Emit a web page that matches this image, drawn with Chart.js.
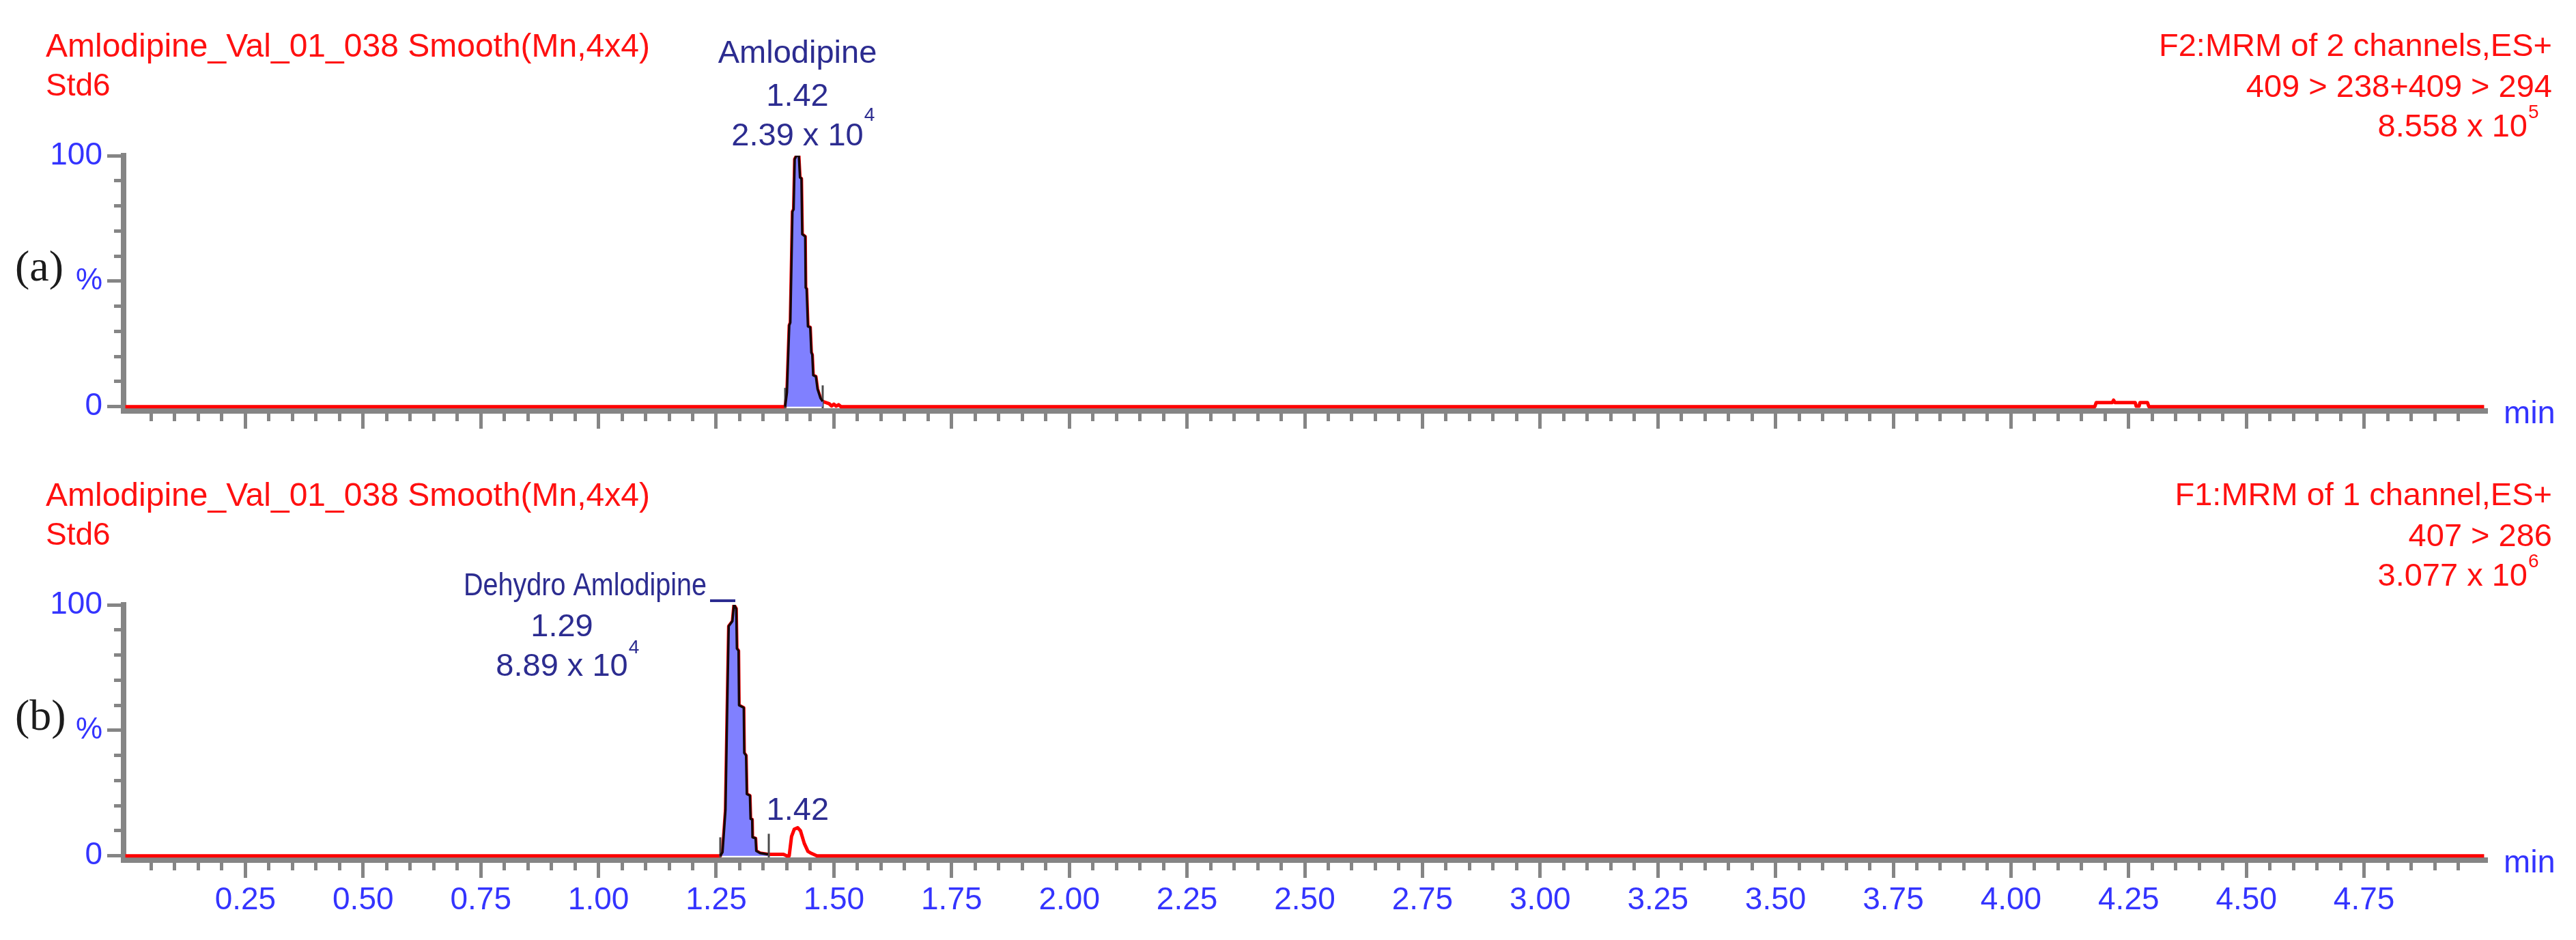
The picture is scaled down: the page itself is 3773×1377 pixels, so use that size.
<!DOCTYPE html>
<html>
<head>
<meta charset="utf-8">
<script src="https://cdn.jsdelivr.net/npm/chart.js@4.4.1/dist/chart.umd.min.js"></script>
<style>
html,body{margin:0;padding:0;background:#fff;}
#wrap{position:relative;width:3773px;height:1377px;overflow:hidden;background:#fff;}
canvas{position:absolute;left:0;}
</style>
</head>
<body>
<div id="wrap">
<canvas id="ca" width="3773" height="658" style="top:0px"></canvas>
<canvas id="cb" width="3773" height="719" style="top:658px"></canvas>
</div>
<script>
// ---------------- DATA ----------------
// Panel (a): F2 MRM trace (retention time, min / relative intensity, %)
const timeA = [-0.005, 1.390, 1.3965, 1.4003, 1.4052, 1.4075, 1.4120, 1.4145, 1.4168, 1.4207, 1.4255, 1.4279, 1.4310, 1.4327, 1.4390, 1.4400, 1.4420, 1.4448, 1.4497, 1.4520, 1.4540, 1.4560, 1.4617, 1.4651, 1.4714, 1.4762, 1.4900, 1.4950, 1.5000, 1.5050, 1.5100, 1.5150, 4.178, 4.181, 4.215, 4.218, 4.221, 4.264, 4.266, 4.272, 4.274, 4.290, 4.293, 5.005];
const intensityA = [0, 0, 0, 5.7, 32.4, 33.5, 77.7, 78.6, 98.6, 100, 100, 91.3, 90.9, 68.7, 67.8, 47.4, 46.9, 32.0, 31.6, 21.6, 20.7, 12.5, 12.0, 7.1, 3.4, 2.1, 1.2, 0.3, 1.0, 0.2, 0.8, 0, 0, 1.6, 1.6, 2.6, 1.6, 1.6, 0.2, 0.2, 1.6, 1.6, 0, 0];
// Panel (b): F1 MRM trace
const timeB = [-0.005, 1.255, 1.2587, 1.2635, 1.2698, 1.2732, 1.2766, 1.2845, 1.2877, 1.2925, 1.2939, 1.2974, 1.2985, 1.3085, 1.3095, 1.3134, 1.3150, 1.3216, 1.3230, 1.3264, 1.3270, 1.3336, 1.3350, 1.3433, 1.3602, 1.3930, 1.4000, 1.4050, 1.4100, 1.4157, 1.4230, 1.4290, 1.4370, 1.4448, 1.4520, 1.4640, 5.005];
const intensityB = [0, 0, 0, 1.5, 18.3, 56.3, 91.5, 93.5, 100, 98.5, 82.6, 81.7, 60.0, 59.0, 41.0, 40.0, 24.6, 24.0, 14.7, 14.5, 7.4, 7.0, 2.0, 1.1, 0.6, 0.6, 0, 0, 7.7, 10.6, 11.2, 10.0, 5.0, 1.8, 1.0, 0, 0];

// Integration windows (start, end) and integration marker heights
const integA = [1.3965, 1.4762];
const integMarkHeightA = [7.5, 8.5];
const integB = [1.2587, 1.3617];
const integMarkHeightB = [7.4, 8.8];

// Peak annotations
const peakNameA = 'Amlodipine', peakRtA = '1.42', peakAreaA = '2.39 x 10', peakExpA = '4', peakApexA = 1.4226;
const peakNameB = 'Dehydro Amlodipine', peakRtB = '1.29', peakAreaB = '8.89 x 10', peakExpB = '4', peakApexB = 1.2877;
const minorPeakRtB = '1.42', minorPeakApexB = 1.423, minorPeakHeightB = 11.2;

// Header texts
const headerLeftA = ['Amlodipine_Val_01_038 Smooth(Mn,4x4)', 'Std6'];
const headerRightA = ['F2:MRM of 2 channels,ES+', '409 > 238+409 > 294', '8.558 x 10', '5'];
const headerLeftB = ['Amlodipine_Val_01_038 Smooth(Mn,4x4)', 'Std6'];
const headerRightB = ['F1:MRM of 1 channel,ES+', '407 > 286', '3.077 x 10', '6'];
const panelLetters = ['(a)', '(b)'];

// Axis ticks
const xTickLabels = ['0.25','0.50','0.75','1.00','1.25','1.50','1.75','2.00','2.25','2.50','2.75','3.00','3.25','3.50','3.75','4.00','4.25','4.50','4.75'];
const xMajorTicks = xTickLabels.map(Number);
const xMinorStep = 0.05, xMinorFirst = 0.05, xMinorLast = 4.95;
const yMajorTicks = [0, 50, 100];
const yTickLabels = ['0', '%', '100'];
const yMinorTicks = [0, 10, 20, 30, 40, 50, 60, 70, 80, 90, 100];
const xUnit = 'min';
const xRange = [-0.0087, 5.0116];
const yRange = [-1.7, 100];

// ---------------- STYLE ----------------
const SANS = '"Liberation Sans", Arial, Helvetica, sans-serif';
const SERIF = '"Liberation Serif", "Times New Roman", serif';
const RED = '#ff1010';
const BLUE = '#3434ff';
const NAVY = '#2c2c90';
const GREY = '#858585';

const xMinorTicksList = [];
for (let v = xMinorFirst; v <= xMinorLast + 1e-9; v += xMinorStep) xMinorTicksList.push(Math.round(v * 100) / 100);

function txt(ctx, s, x, y, size, color, align, maxW) {
  ctx.font = size + 'px ' + SANS;
  ctx.fillStyle = color;
  ctx.textAlign = align;
  ctx.textBaseline = 'alphabetic';
  if (maxW) ctx.fillText(s, x, y, maxW); else ctx.fillText(s, x, y);
  const w = ctx.measureText(s).width;
  return maxW ? Math.min(w, maxW) : w;
}

const textPlugin = {
  id: 'panelText',
  afterDraw(chart, args, o) {
    const ctx = chart.ctx;
    const xs = chart.scales.x, ys = chart.scales.y;
    const area = chart.chartArea;
    ctx.save();
    // header
    txt(ctx, o.left[0], 67, 83, 48, RED, 'left', 900);
    txt(ctx, o.left[1], 67, 140, 46, RED, 'left');
    txt(ctx, o.right[0], 3738, 82, 47, RED, 'right');
    txt(ctx, o.right[1], 3738, 142, 47, RED, 'right');
    txt(ctx, o.right[2], 3702, 200, 47, RED, 'right');
    txt(ctx, o.right[3], 3703, 173, 28, RED, 'left');
    // panel letter
    ctx.font = '64px ' + SERIF;
    ctx.fillStyle = '#1c1c1c';
    ctx.textAlign = 'left';
    ctx.textBaseline = 'middle';
    ctx.fillText(o.letter, 22, ys.getPixelForValue(50) - 18);
    // axis unit
    txt(ctx, xUnit, area.right + 24, ys.getPixelForValue(0) + 24, 47, BLUE, 'left');
    // peak labels
    const y100 = ys.getPixelForValue(100);
    const p = o.peak;
    const xp = xs.getPixelForValue(p.apex);
    if (p.mode === 'above') {
      txt(ctx, p.name, xp, y100 - 136, 47, NAVY, 'center');
      txt(ctx, p.rt, xp, y100 - 73, 47, NAVY, 'center');
      const w = txt(ctx, p.area, xp, y100 - 15, 47, NAVY, 'center');
      txt(ctx, p.exp, xp + w / 2 + 1, y100 - 51, 28, NAVY, 'left');
    } else {
      const xc = xp - 252;
      const nameRight = xp - 40;
      txt(ctx, p.name, nameRight, y100 - 14, 47, NAVY, 'right', 356);
      txt(ctx, p.rt, xc, y100 + 46, 47, NAVY, 'center');
      const w = txt(ctx, p.area, xc, y100 + 104, 47, NAVY, 'center');
      txt(ctx, p.exp, xc + w / 2 + 1, y100 + 71, 28, NAVY, 'left');
      ctx.strokeStyle = NAVY;
      ctx.lineWidth = 4;
      ctx.beginPath();
      ctx.moveTo(nameRight + 5, y100 - 6);
      ctx.lineTo(xp + 2, y100 - 6);
      ctx.stroke();
    }
    if (o.minor) {
      txt(ctx, o.minor.rt, xs.getPixelForValue(o.minor.apex), ys.getPixelForValue(o.minor.h) - 12, 47, NAVY, 'center');
    }
    ctx.restore();
  }
};

function makeDatasets(time, inten, integ, markH) {
  const trace = time.map((t, i) => ({ x: t, y: inten[i] }));
  const peak = trace.filter(pt => pt.x >= integ[0] - 1e-9 && pt.x <= integ[1] + 1e-9);
  const ds = [];
  ds.push({ data: peak, borderColor: '#1a0606', borderWidth: 3.5, backgroundColor: 'rgb(128,128,255)', fill: 'origin', pointRadius: 0, tension: 0 });
  integ.forEach((t, i) => {
    ds.push({ data: [{ x: t, y: -0.6 }, { x: t, y: markH[i] }], borderColor: '#4a4a4a', borderWidth: 3, fill: false, pointRadius: 0 });
  });
  ds.push({ data: trace, borderColor: '#ff0000', borderWidth: 5, fill: false, pointRadius: 0, tension: 0 });
  return ds;
}

function makeChart(id, canvasH, time, inten, integ, markH, showXLabels, textOpts) {
  const bottomTotal = canvasH - 602;
  return new Chart(document.getElementById(id), {
    type: 'line',
    data: { datasets: makeDatasets(time, inten, integ, markH) },
    options: {
      responsive: false,
      animation: false,
      devicePixelRatio: 1,
      layout: { padding: { left: 0, right: 130, top: 228, bottom: 0 } },
      plugins: { legend: { display: false }, tooltip: { enabled: false }, panelText: textOpts },
      elements: { line: { borderJoinStyle: 'round', borderCapStyle: 'butt' } },
      scales: {
        xm: {
          type: 'linear', position: 'bottom', weight: 0, min: xRange[0], max: xRange[1],
          grid: { drawOnChartArea: false, drawTicks: true, tickLength: 15, tickColor: GREY, tickWidth: 5 },
          border: { display: true, color: GREY, width: 8 },
          ticks: { display: false },
          afterBuildTicks: s => { s.ticks = xMinorTicksList.map(v => ({ value: v })); },
          afterFit: s => { s.height = 15; }
        },
        x: {
          type: 'linear', position: 'bottom', weight: 1, min: xRange[0], max: xRange[1],
          grid: { drawOnChartArea: false, drawTicks: true, tickLength: 11, tickColor: GREY, tickWidth: 5 },
          border: { display: false },
          ticks: {
            display: showXLabels, autoSkip: false, maxRotation: 0, padding: 6, color: BLUE,
            font: { family: SANS, size: 46 },
            callback: v => { const i = xMajorTicks.indexOf(Math.round(v * 100) / 100); return i >= 0 ? xTickLabels[i] : ''; }
          },
          afterBuildTicks: s => { s.ticks = xMajorTicks.map(v => ({ value: v })); },
          afterFit: s => { s.height = bottomTotal - 15; }
        },
        ym: {
          type: 'linear', position: 'left', weight: 0, min: yRange[0], max: yRange[1],
          grid: { drawOnChartArea: false, drawTicks: true, tickLength: 14, tickColor: GREY, tickWidth: 5 },
          border: { display: true, color: GREY, width: 8 },
          ticks: { display: false },
          afterBuildTicks: s => { s.ticks = yMinorTicks.map(v => ({ value: v })); },
          afterFit: s => { s.width = 14; }
        },
        y: {
          type: 'linear', position: 'left', weight: 1, min: yRange[0], max: yRange[1],
          grid: { drawOnChartArea: false, drawTicks: true, tickLength: 10, tickColor: GREY, tickWidth: 5 },
          border: { display: false },
          ticks: {
            autoSkip: false, padding: 7, color: BLUE,
            font: ctx => ({ family: SANS, size: (ctx.tick && ctx.tick.value === 50) ? 44 : 46 }),
            callback: v => { const i = yMajorTicks.indexOf(v); return i >= 0 ? yTickLabels[i] : ''; }
          },
          afterBuildTicks: s => { s.ticks = yMajorTicks.map(v => ({ value: v })); },
          afterFit: s => { s.width = 167; }
        }
      }
    },
    plugins: [textPlugin]
  });
}

makeChart('ca', 658, timeA, intensityA, integA, integMarkHeightA, false, {
  left: headerLeftA, right: headerRightA, letter: panelLetters[0],
  peak: { mode: 'above', name: peakNameA, rt: peakRtA, area: peakAreaA, exp: peakExpA, apex: peakApexA },
  minor: null
});
makeChart('cb', 719, timeB, intensityB, integB, integMarkHeightB, true, {
  left: headerLeftB, right: headerRightB, letter: panelLetters[1],
  peak: { mode: 'side', name: peakNameB, rt: peakRtB, area: peakAreaB, exp: peakExpB, apex: peakApexB },
  minor: { rt: minorPeakRtB, apex: minorPeakApexB, h: minorPeakHeightB }
});
</script>
</body>
</html>
